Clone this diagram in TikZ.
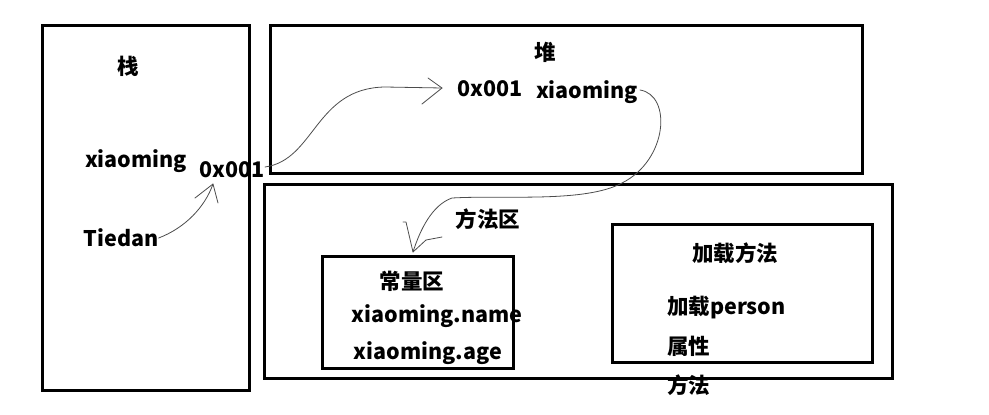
\documentclass[tikz,border=0pt]{standalone}
\usepackage{fontspec}
\setmainfont{Noto Sans CJK SC}
\begin{document}
\begin{tikzpicture}[x=1pt,y=-1pt,
  box/.style={draw=black,line width=3pt,inner sep=0pt},
  lbl/.style={font=\fontsize{21.5}{24}\selectfont\bfseries,inner sep=0pt},
  hand/.style={draw=black!70,line width=0.8pt,line cap=round,line join=round}]
\useasboundingbox (0,0) rectangle (989,415);
% boxes
\node[box,minimum width=207pt,minimum height=365pt] (stackbox) at (145.5,207.5) {};
\node[box,minimum width=592pt,minimum height=148pt] (heapbox) at (566,99) {};
\node[box,minimum width=628pt,minimum height=194pt] (methodbox) at (578,281) {};
\node[box,minimum width=191pt,minimum height=112pt] (constbox) at (417.5,312) {};
\node[box,minimum width=260pt,minimum height=138pt] (loadbox) at (742,293) {};
% texts
\node[lbl] (zhan) at (128,66) {栈};
\node[lbl] (sxm) at (136,161) {xiaoming};
\node[lbl] (saddr) at (232,170) {0x001};
\node[lbl] (tiedan) at (121,238) {Tiedan};
\node[lbl] (dui) at (545,52) {堆};
\node[lbl] (haddr) at (490,89) {0x001};
\node[lbl] (hxm) at (587,92) {xiaoming};
\node[lbl] (ffq) at (488,219) {方法区};
\node[lbl] (clq) at (412,281) {常量区};
\node[lbl] (xmname) at (437,316) {xiaoming.name};
\node[lbl] (xmage) at (428,353) {xiaoming.age};
\node[lbl] (jzff) at (735,253) {加载方法};
\node[lbl,anchor=west] (jzp) at (667,308) {加载person};
\node[lbl,anchor=west] (sx) at (667,346) {属性};
\node[lbl,anchor=west] (ff) at (667,385) {方法};
% connector points
\coordinate (t1) at (213,184);
\coordinate (s2) at (265,167);
\coordinate (t2) at (442,88);
\coordinate (s3) at (640,90);
\coordinate (t3) at (413,252);
% curve 1: Tiedan -> 0x001
\draw[hand] (tiedan.east) .. controls (185,228) and (205,207) .. (t1);
\draw[hand] (195,198) -- (t1) -- (218,203);
% curve 2: stack 0x001 -> heap 0x001
\draw[hand] (s2) .. controls (315,160) and (315,88) .. (385,87) -- (t2);
\draw[hand] (428,78) -- (t2) -- (422,104);
% curve 3: heap xiaoming -> constant area
\draw[hand] (s3) .. controls (672,95) and (668,160) .. (622,183)
  .. controls (585,203) and (505,195) .. (452,198)
  .. controls (432,205) and (420,230) .. (t3);
\draw[hand] (403,222) -- (406,222) -- (t3) -- (426,240) -- (442,237);
\end{tikzpicture}
\end{document}
